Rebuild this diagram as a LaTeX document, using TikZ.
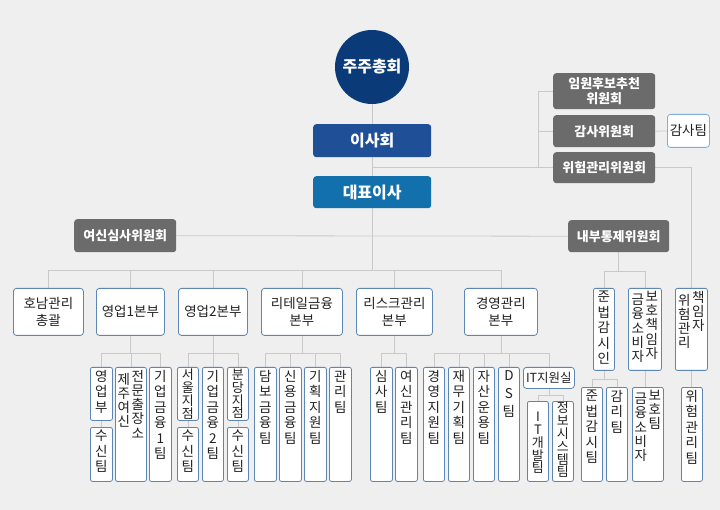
\documentclass[tikz,border=0pt]{standalone}
\usepackage{fontspec}
\setmainfont{Noto Sans CJK KR}
\definecolor{bgC}{HTML}{EFEFEF}
\definecolor{lineC}{HTML}{C9C9C9}
\definecolor{boxB}{HTML}{5E86B5}
\definecolor{txtC}{HTML}{222222}
\definecolor{grayC}{HTML}{6B6B6B}
\definecolor{navyC}{HTML}{0B3A78}
\definecolor{bdC}{HTML}{1E4F97}
\definecolor{ceoC}{HTML}{1271AC}
\definecolor{audB}{HTML}{7FB0D8}
\pgfdeclarelayer{bgl}
\pgfdeclarelayer{lines}
\pgfsetlayers{bgl,lines,main}
\tikzset{
  conn/.style={draw=lineC, line width=0.8pt},
  wbox/.style={draw=boxB, fill=white, rounded corners=2pt, line width=0.8pt, inner sep=0pt},
  l2/.style={wbox, rounded corners=3pt, text=txtC, align=center, font=\fontsize{13.5}{17}\selectfont},
  l2s/.style={wbox, rounded corners=3pt, text=txtC, align=center, font=\fontsize{12.5}{14}\selectfont},
  gbox/.style={fill=grayC, rounded corners=3pt, text=white, inner sep=0pt, align=center, font=\bfseries\fontsize{13}{14.5}\selectfont},
  bluebox/.style={rounded corners=3pt, text=white, inner sep=0pt, font=\bfseries\fontsize{16}{18}\selectfont},
  abox/.style={draw=audB, fill=white, rounded corners=3pt, line width=0.8pt, inner sep=0pt, text=txtC, font=\fontsize{13.5}{15}\selectfont},
  vtxt/.style={align=center, inner sep=0pt, text=txtC, font=\fontsize{13.5}{15.5}\selectfont},
  vtxt2/.style={align=center, inner sep=0pt, text=txtC, font=\fontsize{13.5}{14.2}\selectfont},
  pitch13/.style={font=\fontsize{13}{12.8}\selectfont},
  pitch18/.style={font=\fontsize{13.5}{18}\selectfont},
}
\newcommand\bx[7]{\node[#6, minimum width={(#4)-(#2)}, minimum height={(#5)-(#3)}, anchor=north west] (#1) at (#2,#3) {#7};}
\newcommand\vb[7]{\node[wbox, minimum width={(#4)-(#2)}, minimum height={(#5)-(#3)}, anchor=north west] (#1) at (#2,#3) {};
  \node[vtxt, anchor=north, #6] (#1t) at ([yshift=-3pt]#1.north) {#7};}
\newcommand\vbb[7]{\node[wbox, minimum width={(#4)-(#2)}, minimum height={(#5)-(#3)}, anchor=north west] (#1) at (#2,#3) {};
  \node[vtxt2, anchor=north] (#1l) at ([xshift=-7pt,yshift=-6pt]#1.north) {#6};
  \node[vtxt2, anchor=north] (#1r) at ([xshift=7pt,yshift=-3pt]#1.north) {#7};}
\begin{document}
\begin{tikzpicture}[x=1pt,y=-1pt]
\begin{pgfonlayer}{bgl}
\fill[bgC] (0,0) rectangle (720,510);
\end{pgfonlayer}
\path[use as bounding box] (0,0) rectangle (720,510);

% top
\node[circle, fill=navyC, minimum size=74pt, inner sep=0pt, text=white, font=\bfseries\fontsize{16}{18}\selectfont] (gm0) at (372,67) {주주총회};
\bx{board}{313}{124}{431}{157}{bluebox, fill=bdC}{이사회}
\bx{ceo}{313}{176}{431}{208}{bluebox, fill=ceoC}{대표이사}

% committees
\bx{nom}{553}{73}{655}{109}{gbox}{임원후보추천\\위원회}
\bx{aud}{553}{115}{655}{147}{gbox}{감사위원회}
\bx{rmc}{553}{152}{655}{183}{gbox}{위험관리위원회}
\bx{audt}{667}{114}{709}{147}{abox}{감사팀}
\bx{loan}{74}{219}{176}{252}{gbox}{여신심사위원회}
\bx{icc}{568}{220}{669}{252}{gbox}{내부통제위원회}

% level 2
\bx{hn}{13}{288}{83}{335}{l2}{호남관리\\총괄}
\bx{s1}{96}{288}{164}{335}{l2}{영업1본부}
\bx{s2}{178}{288}{247}{335}{l2}{영업2본부}
\bx{rt}{261}{288}{342}{335}{l2}{리테일금융\\본부}
\bx{rk}{356}{288}{432}{335}{l2}{리스크관리\\본부}
\bx{mg}{464}{288}{537}{335}{l2}{경영관리\\본부}
\vb{co}{593}{288}{614}{370}{}{준\\법\\감\\시\\인}
\vbb{cpo}{628}{288}{661}{370}{금\\융\\소\\비\\자}{보\\호\\책\\임\\자}
\vbb{rmo}{675}{288}{707}{370}{위\\험\\관\\리}{책\\임\\자}

% level 3
\vb{s1a}{90}{367}{112}{420}{}{영\\업\\부}
\vb{s1b}{90}{427}{112}{481}{}{수\\신\\팀}
\vbb{s1c}{115}{367}{146}{481}{제\\주\\여\\신}{전\\문\\출\\장\\소}
\vb{s1d}{149}{367}{171}{481}{}{기\\업\\금\\융\\1\\팀}
\vb{s2a}{177}{367}{198}{420}{pitch13, yshift=1pt}{서\\울\\지\\점}
\vb{s2b}{177}{427}{198}{481}{}{수\\신\\팀}
\vb{s2c}{202}{367}{223}{481}{}{기\\업\\금\\융\\2\\팀}
\vb{s2d}{227}{367}{248}{420}{pitch13, yshift=1pt}{분\\당\\지\\점}
\vb{s2e}{227}{427}{248}{481}{}{수\\신\\팀}
\vb{rt1}{254}{367}{276}{481}{}{담\\보\\금\\융\\팀}
\vb{rt2}{279}{367}{301}{481}{}{신\\용\\금\\융\\팀}
\vb{rt3}{304}{367}{326}{481}{}{기\\획\\지\\원\\팀}
\vb{rt4}{329}{367}{351}{481}{}{관\\리\\팀}
\vb{rk1}{370}{367}{392}{481}{}{심\\사\\팀}
\vb{rk2}{395}{367}{417}{481}{}{여\\신\\관\\리\\팀}
\vb{mg1}{423}{367}{444}{481}{}{경\\영\\지\\원\\팀}
\vb{mg2}{448}{367}{469}{481}{}{재\\무\\기\\획\\팀}
\vb{mg3}{473}{367}{494}{481}{}{자\\산\\운\\용\\팀}
\vb{mg4}{498}{367}{519}{481}{pitch18}{D\\S\\팀}
\bx{it}{523}{367}{574}{388}{l2s}{IT지원실}
\vb{it1}{527}{401}{548}{481}{pitch13, yshift=-8pt}{I\\T\\개\\발\\팀}
\vb{it2}{552}{401}{573}{481}{pitch13, yshift=2pt}{정\\보\\시\\스\\템\\팀}
\vb{co1}{581}{387}{602}{481}{}{준\\법\\감\\시\\팀}
\vb{co2}{606}{387}{627}{481}{}{감\\리\\팀}
\vbb{cpt}{632}{387}{663}{481}{금\\융\\소\\비\\자}{보\\호\\팀}
\vb{rm1}{681}{387}{702}{481}{}{위\\험\\관\\리\\팀}

% connectors
\coordinate (bus) at (372,270);
\coordinate (cj) at (538,0);
\coordinate (ib) at (0,271);
\coordinate (b1) at (0,353);
\coordinate (b2) at (0,395);
\coordinate (b3) at (0,379);
\begin{pgfonlayer}{lines}
\draw[conn] (gm0.center) -- (bus);
\draw[conn] (gm0.center |- rmc.west) -- (rmc.west);
\draw[conn] (cj |- nom.west) -- (nom.west);
\draw[conn] (cj |- aud.west) -- (aud.west);
\draw[conn] (cj |- nom.west) -- (cj |- rmc.west);
\draw[conn] (aud.east) -- (audt.west);
\draw[conn] (rmc.east) -| (rmo.north);
\draw[conn] (loan.east) -- (icc.west);
\draw[conn] (icc.south) -- (icc.south |- ib);
\draw[conn] (co.north) -- (co.north |- ib) -- (cpo.north |- ib) -- (cpo.north);
% main bus
\draw[conn] (hn.north) -- (hn.north |- bus) -- (mg.north |- bus) -- (mg.north);
\foreach \n in {s1,s2,rt,rk} \draw[conn] (\n.north) -- (\n.north |- bus);
% sub trees
\foreach \p/\a/\z in {s1/s1a/s1d, s2/s2a/s2d, rt/rt1/rt4, rk/rk1/rk2, mg/mg1/it}{
  \draw[conn] (\p.south) -- (\p.south |- b1);
  \draw[conn] (\a.north) -- (\a.north |- b1) -- (\z.north |- b1) -- (\z.north);
}
\foreach \n in {s1c, s2c, rt2, rt3, mg2, mg3, mg4} \draw[conn] (\n.north) -- (\n.north |- b1);
\draw[conn] (s1a.south) -- (s1b.north);
\draw[conn] (s2a.south) -- (s2b.north);
\draw[conn] (s2d.south) -- (s2e.north);
\draw[conn] (it.south) -- (it.south |- b2);
\draw[conn] (it1.north) -- (it1.north |- b2) -- (it2.north |- b2) -- (it2.north);
\draw[conn] (co.south) -- (co.south |- b3);
\draw[conn] (co1.north) -- (co1.north |- b3) -- (co2.north |- b3) -- (co2.north);
\draw[conn] (cpo.south) -- (cpo.south |- cpt.north);
\draw[conn] (rmo.south) -- (rmo.south |- rm1.north);
\end{pgfonlayer}
\end{tikzpicture}
\end{document}
